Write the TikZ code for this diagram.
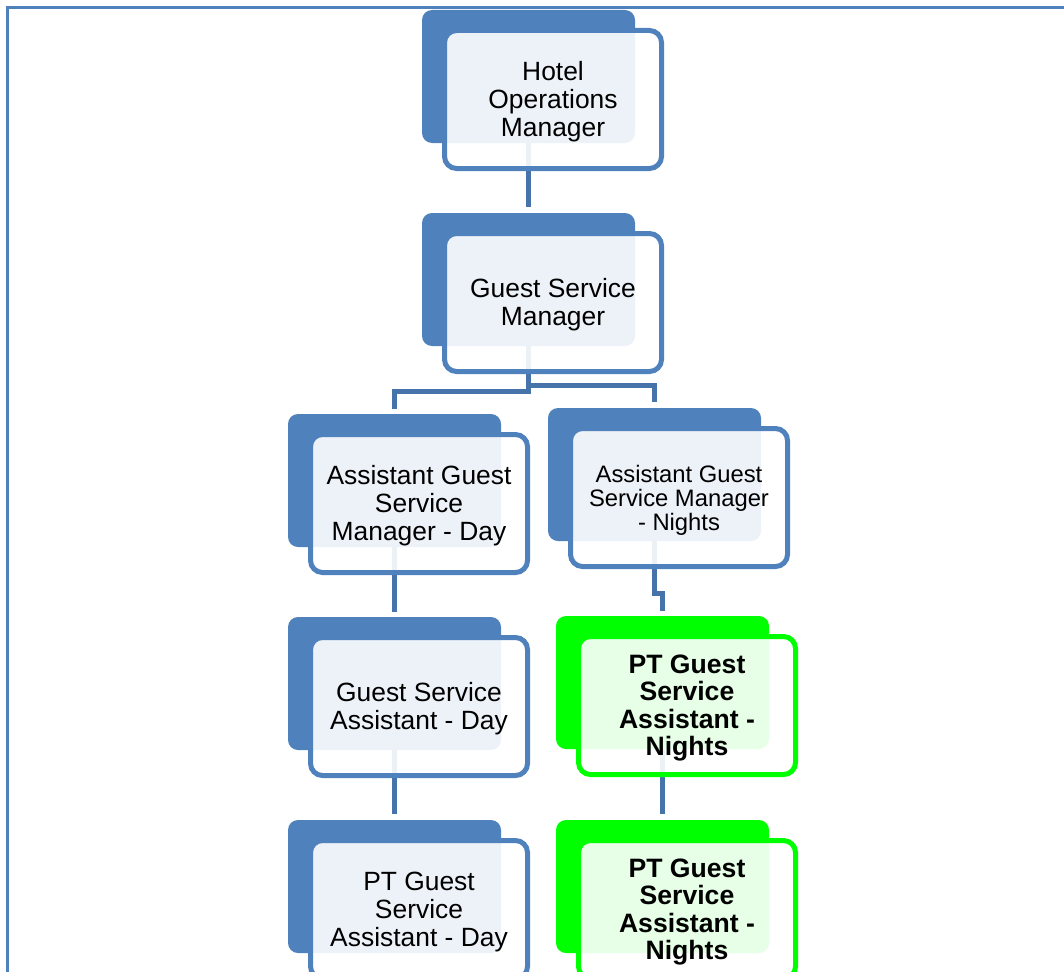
\documentclass[tikz,border=0pt]{standalone}
\usepackage{fontspec}
\setmainfont{Liberation Sans}
\definecolor{boxblue}{RGB}{79,129,189}
\definecolor{connblue}{RGB}{70,115,170}
\definecolor{boxgreen}{RGB}{0,255,0}
\tikzset{
  backbox/.style={draw=none, fill=#1, rounded corners=10pt, minimum width=213pt, minimum height=133pt, inner sep=0pt},
  frontbox/.style={draw=#1, line width=5pt, fill=white, fill opacity=0.9, draw opacity=1, rounded corners=12pt, minimum width=217pt, minimum height=138pt, inner sep=0pt},
  label/.style={inner sep=0pt, align=center, text=black, yshift=-2.5pt},
  regtext/.style={label, font=\fontsize{26.4}{28}\selectfont},
  smalltext/.style={label, font=\fontsize{23.8}{24}\selectfont},
  boldtext/.style={label, font=\fontsize{26.6}{27.5}\selectfont\bfseries},
  conn/.style={draw=connblue, line width=5pt},
  frameline/.style={draw=boxblue, line width=2.2pt}
}
\begin{document}
\begin{tikzpicture}[x=1pt, y=-1pt]
\useasboundingbox (0,0) rectangle (1064,971);
\clip (0,0) rectangle (1064,971);
% frame
\draw[frameline] (7.5,975) -- (7.5,7.5) -- (1070,7.5);
% back boxes
\node[backbox=boxblue] (b1) at (528.5,76.5) {};
\node[backbox=boxblue] (b2) at (528.5,279.5) {};
\node[backbox=boxblue] (b3) at (394.5,480.5) {};
\node[backbox=boxblue] (b4) at (654.5,474.5) {};
\node[backbox=boxblue] (b5) at (394.5,683.5) {};
\node[backbox=boxgreen] (b6) at (662.5,682.5) {};
\node[backbox=boxblue] (b7) at (394.5,886.5) {};
\node[backbox=boxgreen] (b8) at (662.5,886.5) {};
% connectors
\draw[conn] (b1.south) -- ([yshift=6pt]b2.north);
\draw[conn] (b2.south) -- ++(0,45) -| ([yshift=5pt]b3.north);
\draw[conn] (b2.south) -- ++(0,39) -| ([yshift=6pt]b4.north);
\draw[conn] (b4.south) -- ++(0,52) -| ([yshift=5pt]b6.north);
\draw[conn] (b3.south) -- ([yshift=5pt]b5.north);
\draw[conn] (b5.south) -- ([yshift=6pt]b7.north);
\draw[conn] (b6.south) -- ([yshift=6pt]b8.north);
% front boxes
\node[frontbox=boxblue] (f1) at (553,99.5) {};
\node[frontbox=boxblue] (f2) at (553,302.5) {};
\node[frontbox=boxblue] (f3) at (419,503.5) {};
\node[frontbox=boxblue] (f4) at (679,497.5) {};
\node[frontbox=boxblue] (f5) at (419,706.5) {};
\node[frontbox=boxgreen] (f6) at (687,705.5) {};
\node[frontbox=boxblue] (f7) at (419,909.5) {};
\node[frontbox=boxgreen] (f8) at (687,909.5) {};
% texts
\node[regtext] (t1) at (f1.center) {Hotel\\Operations\\Manager};
\node[regtext] (t2) at (f2.center) {Guest Service\\Manager};
\node[regtext] (t3) at (f3.center) {Assistant Guest\\Service\\Manager - Day};
\node[smalltext] (t4) at (f4.center) {Assistant Guest\\Service Manager\\- Nights};
\node[regtext] (t5) at (f5.center) {Guest Service\\Assistant - Day};
\node[boldtext] (t6) at (f6.center) {PT Guest\\Service\\Assistant -\\Nights};
\node[regtext] (t7) at (f7.center) {PT Guest\\Service\\Assistant - Day};
\node[boldtext] (t8) at (f8.center) {PT Guest\\Service\\Assistant -\\Nights};
\end{tikzpicture}
\end{document}
